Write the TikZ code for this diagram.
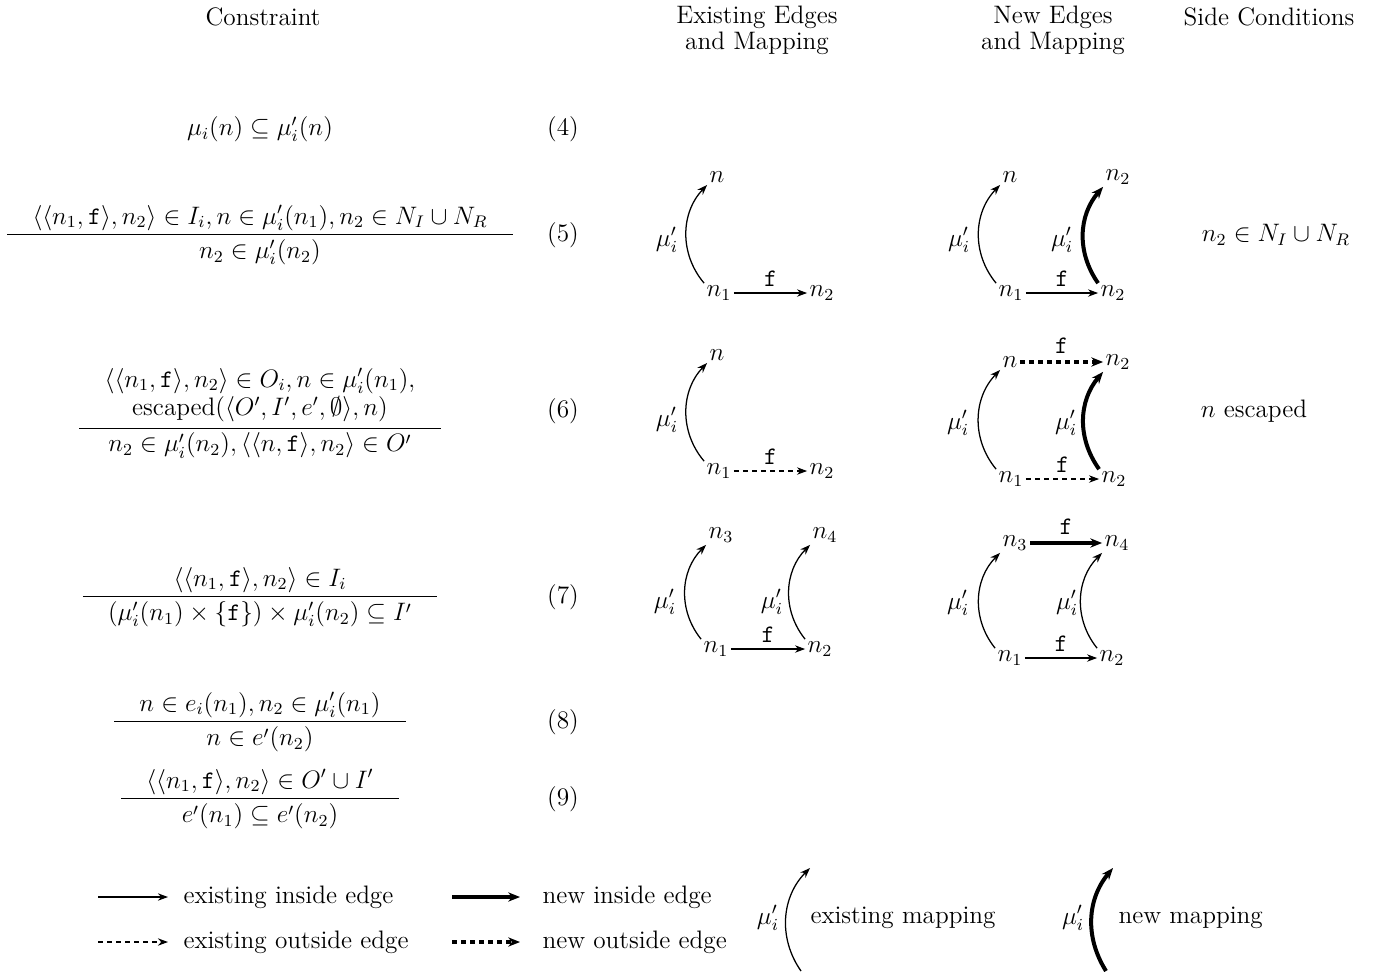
\documentclass[tikz,border=0pt,12pt]{standalone}
\usepackage{amsmath}
\usetikzlibrary{arrows.meta}
\begin{document}
\begin{tikzpicture}[x=0.475pt,y=-0.475pt,
  every node/.style={inner sep=1pt},
  tipA/.style={-{Stealth[length=4.8pt,width=3.5pt]}},
  tipB/.style={-{Stealth[length=5.6pt,width=4.4pt]}},
  inedge/.style={tipA, line width=0.6pt},
  outedge/.style={tipA, line width=0.6pt, dash pattern=on 2.4pt off 1.9pt},
  newin/.style={tipB, line width=1.9pt},
  newout/.style={tipB, line width=1.9pt, dash pattern=on 2.4pt off 1.9pt},
  exmap/.style={tipA, line width=0.6pt},
  newmap/.style={tipB, line width=1.9pt},
  flab/.style={midway, above=2pt},
  hdr/.style={align=center, font=\fontsize{12}{12.5}\selectfont},
  rule/.style={},
  tag/.style={}]
\useasboundingbox (0,0) rectangle (1378,971);

% headers
\node[hdr] (h1) at (263,17) {Constraint};
\node[hdr] (h2) at (757,30) {Existing Edges\\and Mapping};
\node[hdr] (h3) at (1053,30) {New Edges\\and Mapping};
\node[hdr] (h4) at (1269,17) {Side Conditions};

% constraints
\node[rule] (r4) at (260,129) {$\mu_i(n) \subseteq \mu'_i(n)$};
\node[tag] (t4) at (563,129) {(4)};

\node[rule] (r5) at (260,235) {$\dfrac{\hspace{1em}\langle\langle n_1,\mathtt{f}\rangle,n_2\rangle \in I_i, n \in \mu'_i(n_1), n_2 \in N_I \cup N_R\hspace{1em}}{n_2 \in \mu'_i(n_2)}$};
\node[tag] (t5) at (563,235) {(5)};

\node[rule] (r6) at (260,412) {$\dfrac{\hspace{1em}\begin{array}{@{}c@{}}\langle\langle n_1,\mathtt{f}\rangle,n_2\rangle \in O_i, n \in \mu'_i(n_1),\\[-1pt] \mathrm{escaped}(\langle O',I',e',\emptyset\rangle,n)\end{array}\hspace{1em}}{n_2 \in \mu'_i(n_2), \langle\langle n,\mathtt{f}\rangle,n_2\rangle \in O'}$};
\node[tag] (t6) at (563,411) {(6)};

\node[rule] (r7) at (260,597) {$\dfrac{\hspace{1em}\langle\langle n_1,\mathtt{f}\rangle,n_2\rangle \in I_i\hspace{1em}}{\hspace{1em}(\mu'_i(n_1)\times\{\mathtt{f}\})\times\mu'_i(n_2) \subseteq I'\hspace{1em}}$};
\node[tag] (t7) at (563,597) {(7)};

\node[rule] (r8) at (260,722) {$\dfrac{\hspace{1em}n \in e_i(n_1), n_2 \in \mu'_i(n_1)\hspace{1em}}{n \in e'(n_2)}$};
\node[tag] (t8) at (563,722) {(8)};

\node[rule] (r9) at (260,799) {$\dfrac{\hspace{1em}\langle\langle n_1,\mathtt{f}\rangle,n_2\rangle \in O' \cup I'\hspace{1em}}{e'(n_1) \subseteq e'(n_2)}$};
\node[tag] (t9) at (563,799) {(9)};

% side conditions
\node (s5) at (1276,235) {$n_2 \in N_I \cup N_R$};
\node (s6) at (1254,411) {$n$ escaped};

% ---- row 5 existing
\node (a5n) at (717,177) {$n$};
\node (a5n1) at (719,293) {$n_1$};
\node (a5n2) at (822,293) {$n_2$};
\node (a5m) at (667,240) {$\mu'_i$};
\draw[exmap] (a5n1.north west) to[bend left=42] (a5n.south west);
\draw[inedge] (a5n1) -- node[flab] {$\mathtt{f}$} (a5n2);

% ---- row 5 new
\node (b5n) at (1010,177) {$n$};
\node (b5t) at (1118,177) {$n_2$};
\node (b5n1) at (1011,293) {$n_1$};
\node (b5n2) at (1113,293) {$n_2$};
\node (b5m1) at (959,240) {$\mu'_i$};
\node (b5m2) at (1062,240) {$\mu'_i$};
\draw[exmap] (b5n1.north west) to[bend left=42] (b5n.south west);
\draw[newmap] (b5n2.north west) to[bend left=38] (b5t.south west);
\draw[inedge] (b5n1) -- node[flab] {$\mathtt{f}$} (b5n2);

% ---- row 6 existing
\node (a6n) at (717,355) {$n$};
\node (a6n1) at (719,471) {$n_1$};
\node (a6n2) at (822,471) {$n_2$};
\node (a6m) at (667,420) {$\mu'_i$};
\draw[exmap] (a6n1.north west) to[bend left=42] (a6n.south west);
\draw[outedge] (a6n1) -- node[flab] {$\mathtt{f}$} (a6n2);

% ---- row 6 new
\node (b6n) at (1010,362) {$n$};
\node (b6t) at (1118,362) {$n_2$};
\node (b6n1) at (1011,479) {$n_1$};
\node (b6n2) at (1114,479) {$n_2$};
\node (b6m1) at (958,423) {$\mu'_i$};
\node (b6m2) at (1066,423) {$\mu'_i$};
\draw[exmap] (b6n1.north west) to[bend left=42] (b6n.south west);
\draw[newmap] (b6n2.north west) to[bend left=38] (b6t.south west);
\draw[outedge] (b6n1) -- node[flab] {$\mathtt{f}$} (b6n2);
\draw[newout] (b6n) -- node[flab] {$\mathtt{f}$} (b6t);

% ---- row 7 existing
\node (a7n3) at (721,535) {$n_3$};
\node (a7n4) at (825,535) {$n_4$};
\node (a7n1) at (716,649) {$n_1$};
\node (a7n2) at (820,649) {$n_2$};
\node (a7m1) at (665,602) {$\mu'_i$};
\node (a7m2) at (772,602) {$\mu'_i$};
\draw[exmap] (a7n1.north west) to[bend left=42] (a7n3.south west);
\draw[exmap] (a7n2.north west) to[bend left=42] (a7n4.south west);
\draw[inedge] (a7n1) -- node[flab] {$\mathtt{f}$} (a7n2);

% ---- row 7 new
\node (b7n3) at (1015,543) {$n_3$};
\node (b7n4) at (1117,543) {$n_4$};
\node (b7n1) at (1010,658) {$n_1$};
\node (b7n2) at (1112,658) {$n_2$};
\node (b7m1) at (958,603) {$\mu'_i$};
\node (b7m2) at (1067,603) {$\mu'_i$};
\draw[exmap] (b7n1.north west) to[bend left=42] (b7n3.south west);
\draw[exmap] (b7n2.north west) to[bend left=42] (b7n4.south west);
\draw[inedge] (b7n1) -- node[flab] {$\mathtt{f}$} (b7n2);
\draw[newin] (b7n3) -- node[flab] {$\mathtt{f}$} (b7n4);

% ---- legend
\coordinate (l1s) at (98,897);  \coordinate (l1e) at (168,897);
\coordinate (l2s) at (98,942);  \coordinate (l2e) at (168,942);
\coordinate (l3s) at (452,897); \coordinate (l3e) at (520,897);
\coordinate (l4s) at (452,942); \coordinate (l4e) at (520,942);
\draw[inedge] (l1s) -- (l1e);
\draw[outedge] (l2s) -- (l2e);
\draw[newin] (l3s) -- (l3e);
\draw[newout] (l4s) -- (l4e);
\node[anchor=west] (lt1) at (181,897) {existing inside edge};
\node[anchor=west] (lt2) at (181,942) {existing outside edge};
\node[anchor=west] (lt3) at (540,897) {new inside edge};
\node[anchor=west] (lt4) at (540,942) {new outside edge};

\coordinate (m1s) at (801,971); \coordinate (m1e) at (810,868);
\node (m1l) at (768,918) {$\mu'_i$};
\draw[exmap] (m1s) to[bend left=40] (m1e);
\node[anchor=west] (m1t) at (808,918) {existing mapping};

\coordinate (m2s) at (1106,971); \coordinate (m2e) at (1113,868);
\node (m2l) at (1073,918) {$\mu'_i$};
\draw[newmap] (m2s) to[bend left=36] (m2e);
\node[anchor=west] (m2t) at (1116,918) {new mapping};
\end{tikzpicture}
\end{document}
